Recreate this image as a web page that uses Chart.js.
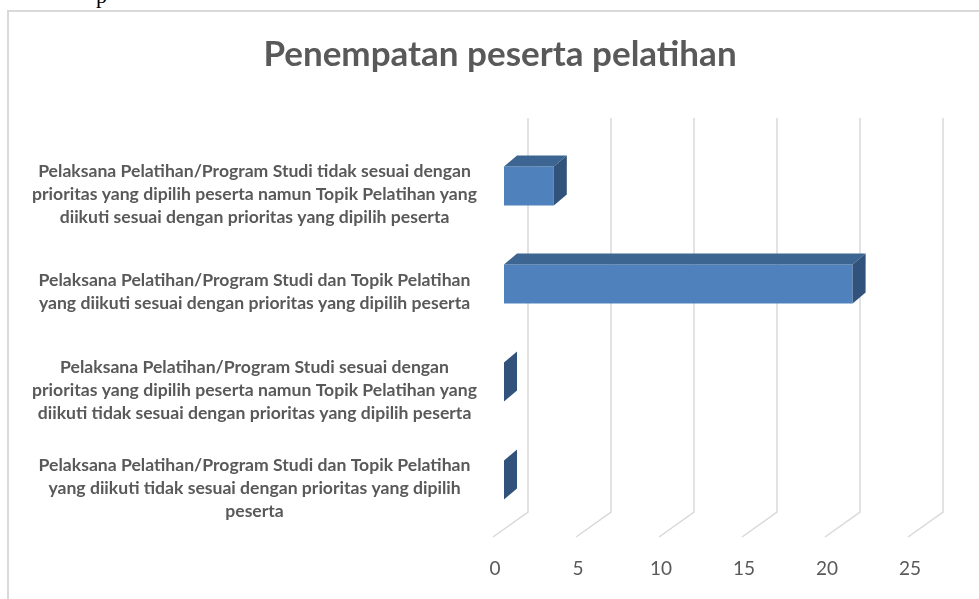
<!DOCTYPE html>
<html>
<head>
<meta charset="utf-8">
<script src="https://cdn.jsdelivr.net/npm/chart.js@4.4.0/dist/chart.umd.min.js"></script>
<style>
html,body{margin:0;padding:0;background:#fff;overflow:hidden;width:979px;height:599px;}
#frame{position:absolute;left:7px;top:10px;width:1000px;height:620px;border:2px solid #d9d9d9;box-sizing:border-box;}
#wrap{position:absolute;left:5px;top:11px;width:990px;height:590px;}
#cut{position:absolute;left:96px;top:-17px;font-family:"Liberation Serif";font-size:22px;color:#000;}
</style>
</head>
<body>
<div id="cut">p</div>
<div id="frame"></div>
<div id="wrap"><canvas id="chart"></canvas></div>
<script>
const titleText="Penempatan peserta pelatihan";
const categories=[
    ["Pelaksana Pelatihan/Program Studi tidak sesuai dengan","prioritas yang dipilih peserta namun Topik Pelatihan yang","diikuti sesuai dengan prioritas yang dipilih peserta"],
    ["Pelaksana Pelatihan/Program Studi dan Topik Pelatihan","yang diikuti sesuai dengan prioritas yang dipilih peserta"],
    ["Pelaksana Pelatihan/Program Studi sesuai dengan","prioritas yang dipilih peserta namun Topik Pelatihan yang","diikuti tidak sesuai dengan prioritas yang dipilih peserta"],
    ["Pelaksana Pelatihan/Program Studi dan Topik Pelatihan","yang diikuti tidak sesuai dengan prioritas yang dipilih","peserta"]
];
const values=[3,21,0,0];
const xTicks=[0,5,10,15,20,25];

const frontColor="#4f81bd";
const topColor="#3d6591";
const sideColor="#31527a";
const gridColor="#d9d9d9";

// 3d-ish gridlines: back vertical then diagonal to the front floor
const grid3d={
    id:"grid3d",
    beforeDatasetsDraw(chart){
        const {ctx,chartArea,scales:{x}}=chart;
        ctx.save();
        ctx.strokeStyle=gridColor;
        ctx.lineWidth=1.5;
        xTicks.forEach(v=>{
            const px=x.getPixelForValue(v);
            ctx.beginPath();
            ctx.moveTo(px+24,chartArea.top-19);
            ctx.lineTo(px+24,chartArea.bottom-17);
            ctx.lineTo(px-11,chartArea.bottom+8);
            ctx.stroke();
        });
        ctx.restore();
    }
};

// top and end faces of each bar
const bar3d={
    id:"bar3d",
    afterDatasetsDraw(chart){
        const {ctx}=chart;
        const dx=13,dy=-11;
        chart.getDatasetMeta(0).data.forEach(bar=>{
            const p=bar.getProps(["x","y","base","height"],true);
            const top=p.y-p.height/2,bottom=p.y+p.height/2;
            ctx.save();
            ctx.fillStyle=topColor;
            ctx.beginPath();
            ctx.moveTo(p.base,top);
            ctx.lineTo(p.base+dx,top+dy);
            ctx.lineTo(p.x+dx,top+dy);
            ctx.lineTo(p.x,top);
            ctx.closePath();
            ctx.fill();
            ctx.fillStyle=sideColor;
            ctx.beginPath();
            ctx.moveTo(p.x,top);
            ctx.lineTo(p.x+dx,top+dy);
            ctx.lineTo(p.x+dx,bottom+dy);
            ctx.lineTo(p.x,bottom);
            ctx.closePath();
            ctx.fill();
            ctx.restore();
        });
    }
};

function fixWidth(w){
    return scale=>{scale.width=w;scale.paddingTop=0;scale.paddingBottom=0;};
}

new Chart(document.getElementById("chart"),{
    type:"bar",
    data:{labels:categories,datasets:[{data:values,backgroundColor:frontColor,borderWidth:0,categoryPercentage:1,barPercentage:0.4}]},
    options:{
        indexAxis:"y",
        responsive:true,
        maintainAspectRatio:false,
        animation:false,
        layout:{padding:{top:0,left:0,right:0,bottom:21}},
        plugins:{
            legend:{display:false},
            tooltip:{enabled:false},
            title:{display:true,text:titleText,color:"#595959",font:{family:"Lato",size:35,weight:"bold"},padding:{top:23,bottom:61}}
        },
        scales:{
            x:{
                min:0,max:25,
                grid:{display:false,drawTicks:false},
                border:{display:false},
                afterFit(scale){scale.height=51;},
                ticks:{stepSize:5,padding:28,labelOffset:-9,color:"#595959",font:{family:"Lato",size:19}}
            },
            y:{
                grid:{display:false,drawTicks:false},
                border:{display:false},
                afterFit:fixWidth(499),
                ticks:{crossAlign:"center",padding:27,labelOffset:8,color:"#595959",font:{family:"Lato",size:17.6,weight:"bold",lineHeight:1.31}}
            },
            y2:{
                type:"category",
                position:"right",
                grid:{display:false,drawTicks:false},
                border:{display:false},
                ticks:{display:false},
                afterFit:fixWidth(76)
            }
        }
    },
    plugins:[grid3d,bar3d]
});
</script>
</body>
</html>
